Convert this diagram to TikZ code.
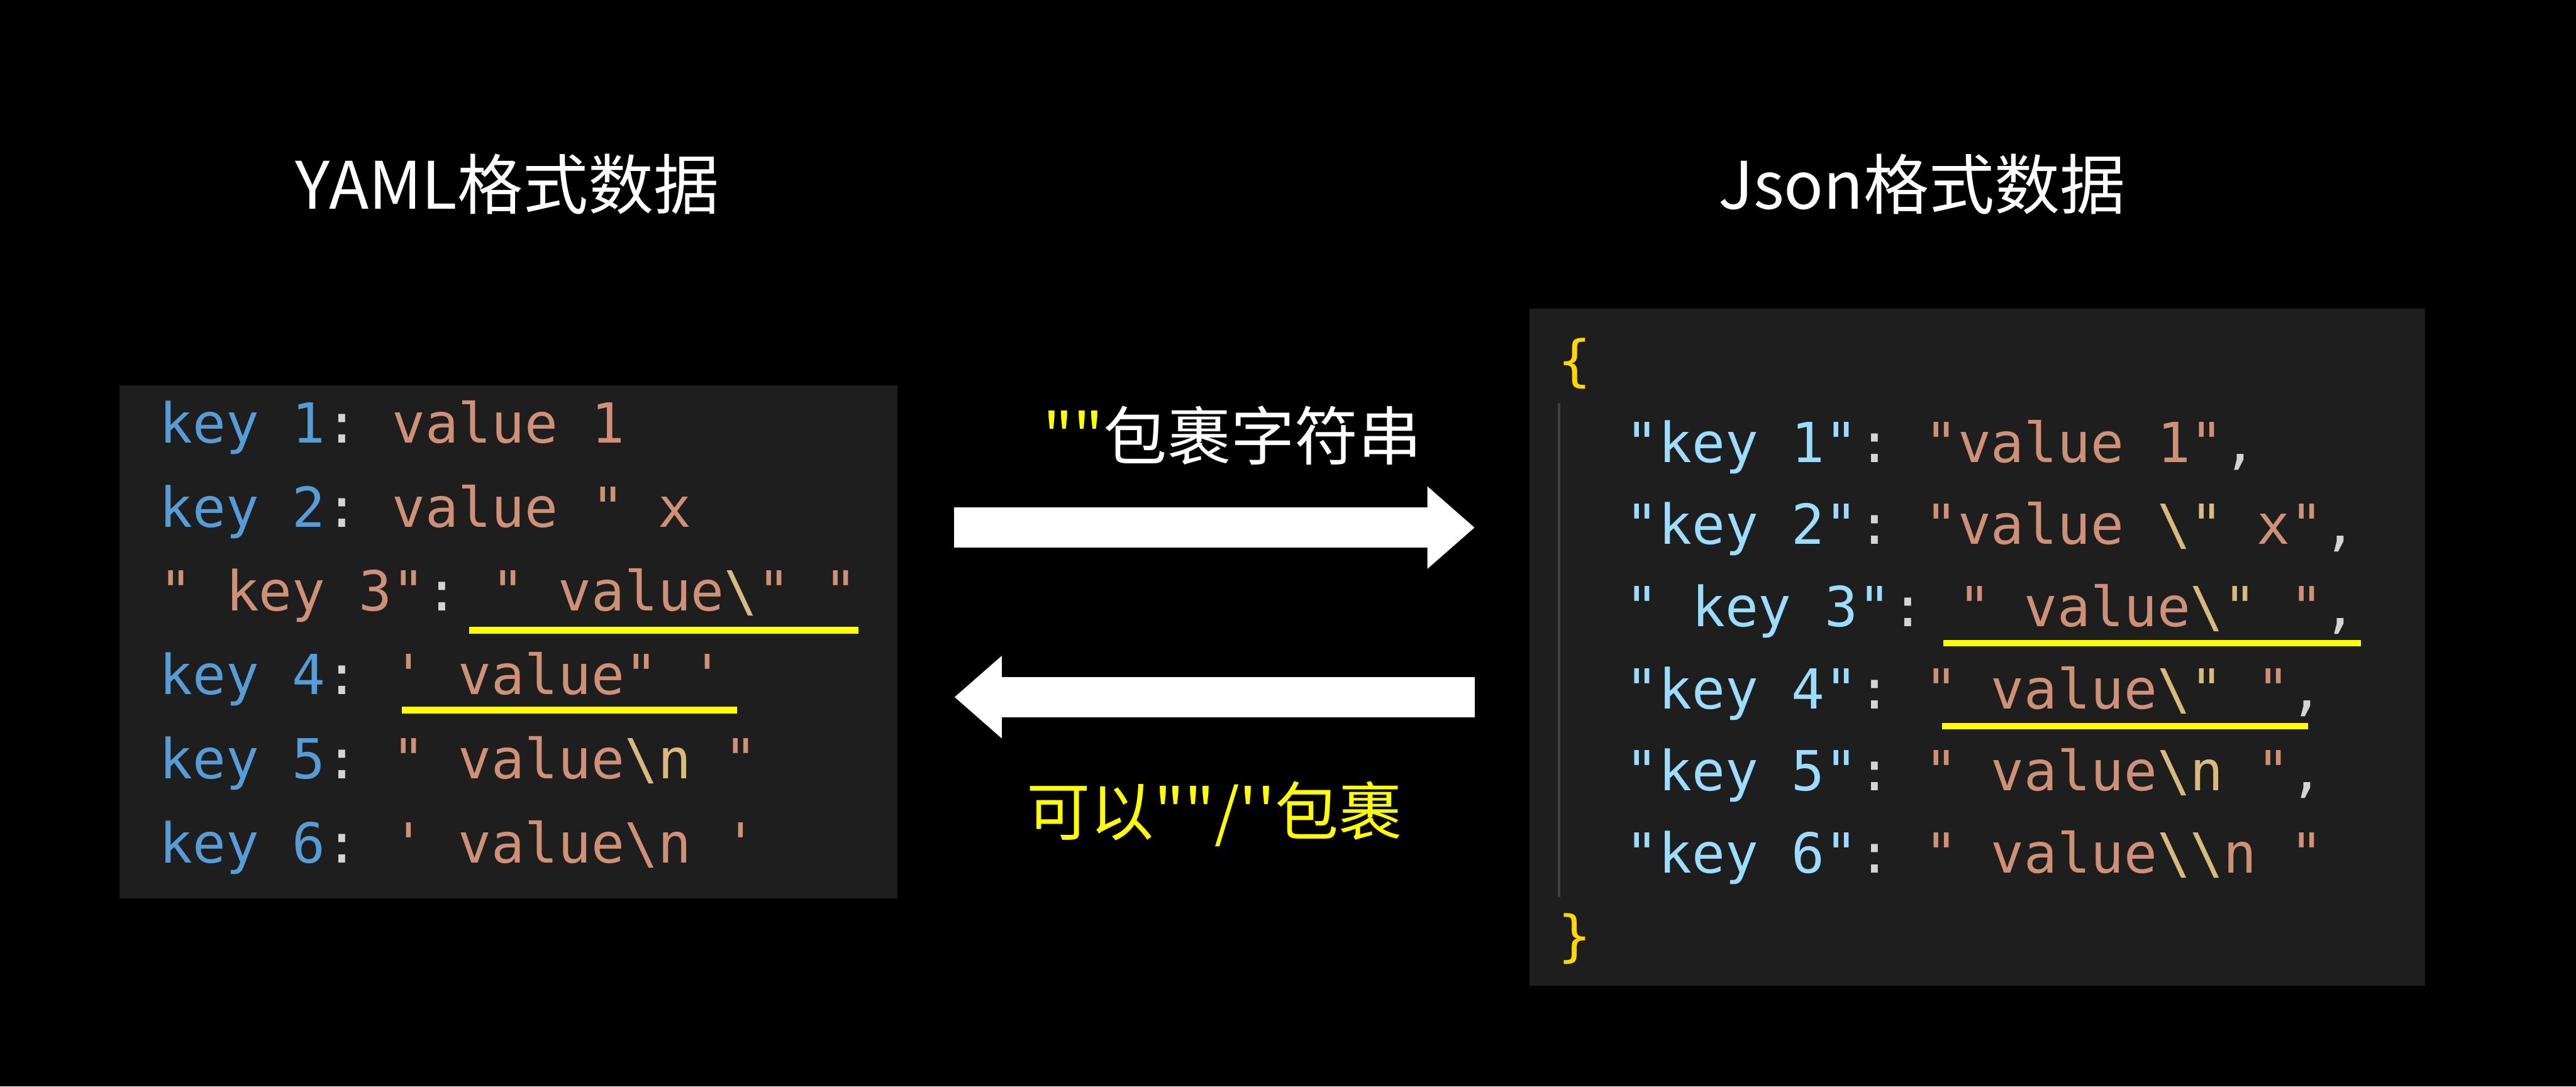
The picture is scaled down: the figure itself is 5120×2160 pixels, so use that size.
\documentclass[tikz,border=0pt]{standalone}
\usepackage{fontspec}
\usetikzlibrary{arrows.meta}
\newfontfamily\cjkfont{Noto Sans CJK SC}
\newfontfamily\codefont{DejaVu Sans Mono}

\definecolor{codebg}{HTML}{1E1E1E}
\definecolor{yamlkey}{HTML}{569CD6}
\definecolor{jsonkey}{HTML}{9CDCFE}
\definecolor{strcol}{HTML}{CE9178}
\definecolor{esccol}{HTML}{D7BA7D}
\definecolor{punccol}{HTML}{D4D4D4}
\definecolor{bracecol}{HTML}{FFD700}
\definecolor{hlyellow}{HTML}{FFFF00}
\definecolor{guidecol}{HTML}{404040}

\newcommand{\keyA}[1]{\textcolor{yamlkey}{#1}}
\newcommand{\keyB}[1]{\textcolor{jsonkey}{#1}}
\newcommand{\strv}[1]{\textcolor{strcol}{#1}}
\newcommand{\escv}[1]{\textcolor{esccol}{#1}}
\newcommand{\punc}[1]{\textcolor{punccol}{#1}}
\newcommand{\brac}[1]{\textcolor{bracecol}{#1}}

\tikzset{
    title/.style={white, inner sep=0, font=\cjkfont\fontsize{37}{40}\selectfont},
    codebox/.style={fill=codebg, inner sep=0},
    codeline/.style={anchor=base west, inner sep=0, font=\codefont\fontsize{31.2}{36}\selectfont\frenchspacing},
    bigarrow/.style={white, line width=0.8cm, -{Triangle[length=0.94cm, width=1.58cm]}},
    hline/.style={hlyellow, line width=0.13cm},
}

\begin{document}
\begin{tikzpicture}[x=0.01cm, y=-0.01cm]
    \fill[black] (0,0) rectangle (5120,2160);
    \useasboundingbox (0,0) rectangle (5120,2160);

    % Titles
    \node[title] (yamltitle) at (1008,366) {YAML格式数据};
    \node[title] (jsontitle) at (3820,366) {Json格式数据};

    % Code boxes
    \node[codebox, minimum width=15.45cm, minimum height=10.19cm] (yamlbox) at (1010.5,1276.5) {};
    \node[codebox, minimum width=17.79cm, minimum height=13.45cm] (jsonbox) at (3929.5,1286.5) {};

    % YAML lines
    \node[codeline] (y1) at (316,881) {\keyA{key 1}\punc{:} \strv{value 1}};
    \node[codeline] (y2) at (316,1048) {\keyA{key 2}\punc{:} \strv{value " x}};
    \node[codeline] (y3) at (316,1214) {\strv{" key 3"}\punc{:} \strv{" value}\escv{\textbackslash}\strv{" "}};
    \node[codeline] (y4) at (316,1381) {\keyA{key 4}\punc{:} \strv{' value" '}};
    \node[codeline] (y5) at (316,1548) {\keyA{key 5}\punc{:} \strv{" value}\escv{\textbackslash n}\strv{\ "}};
    \node[codeline] (y6) at (316,1715) {\keyA{key 6}\punc{:} \strv{' value\textbackslash n '}};

    % Json lines
    \node[codeline] (jopen) at (3096,756) {\brac{\{}};
    \node[codeline] (j1) at (3230,919) {\keyB{"key 1"}\punc{:} \strv{"value 1"}\punc{,}};
    \node[codeline] (j2) at (3230,1082) {\keyB{"key 2"}\punc{:} \strv{"value }\escv{\textbackslash"}\strv{\ x"}\punc{,}};
    \node[codeline] (j3) at (3230,1246) {\keyB{" key 3"}\punc{:} \strv{" value}\escv{\textbackslash"}\strv{\ "}\punc{,}};
    \node[codeline] (j4) at (3230,1409) {\keyB{"key 4"}\punc{:} \strv{" value}\escv{\textbackslash"}\strv{\ "}\punc{,}};
    \node[codeline] (j5) at (3230,1572) {\keyB{"key 5"}\punc{:} \strv{" value}\escv{\textbackslash n}\strv{\ "}\punc{,}};
    \node[codeline] (j6) at (3230,1736) {\keyB{"key 6"}\punc{:} \strv{" value}\escv{\textbackslash\textbackslash}\strv{n "}};
    \node[codeline] (jclose) at (3096,1899) {\brac{\}}};
    \draw[guidecol, line width=0.05cm] (3099,801) -- (3099,1784);

    % Underlines
    \draw[hline] (933,1253) -- (1706,1253);
    \draw[hline] (799,1412) -- (1465,1412);
    \draw[hline] (3862,1279) -- (4692,1279);
    \draw[hline] (3860,1444) -- (4587,1444);

    % Arrows
    \coordinate (fwdfrom) at (1896,1049);
    \coordinate (fwdto) at (2931,1049);
    \coordinate (backfrom) at (2931,1386);
    \coordinate (backto) at (1897,1386);
    \draw[bigarrow] (fwdfrom) -- (fwdto);
    \draw[bigarrow] (backfrom) -- (backto);

    % Labels
    \node[title, font=\cjkfont\fontsize{36}{40}\selectfont] (fwdlabel) at (2450,866) {\textcolor{hlyellow}{""}包裹字符串};
    \node[title, hlyellow, font=\cjkfont\fontsize{36}{40}\selectfont] (backlabel) at (2414,1618) {可以""/''包裹};
\end{tikzpicture}
\end{document}
